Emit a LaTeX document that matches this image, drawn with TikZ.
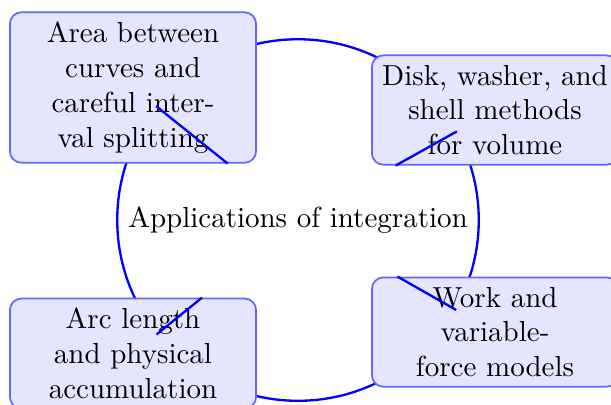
\documentclass[tikz,border=0pt]{standalone}
\begin{document}
\begin{tikzpicture}[x=1cm,y=1cm,
    hub/.style={circle,draw=blue,thick},
    leaf/.style={draw=blue!60,semithick,fill=blue!10,rounded corners,
      text width=2.75cm,align=center}]
  \useasboundingbox (-3.612,-2.23) rectangle (3.794,2.667);
  \clip (-3.612,-2.23) rectangle (3.794,2.667);
  \node[hub] (apps) at (0,0) {Applications of integration};
  \foreach \xy/\n/\t in {(-2.0,1.606)/area/{Area between curves and careful interval splitting},
            (2.388,1.333)/volume/{Disk, washer, and shell methods for volume},
            (2.388,-1.358)/work/{Work and variable-force models},
            (-2.0,-1.618)/arc/{Arc length and physical accumulation}}
    \node[leaf] (\n) at \xy {\t};
  \foreach \n in {area,volume,work,arc}
    \draw[blue,thick] (apps) -- (\n);
\end{tikzpicture}
\end{document}
